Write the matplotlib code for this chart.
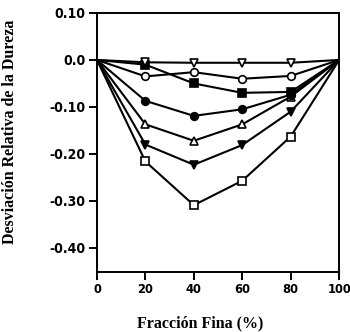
import matplotlib
matplotlib.use("Agg")
import matplotlib.pyplot as plt

x = [0, 20, 40, 60, 80, 100]
s_vtri_open = [0, -0.005, -0.006, -0.006, -0.006, 0]
s_circ_open = [0, -0.035, -0.026, -0.040, -0.034, 0]
s_sq_filled = [0, -0.010, -0.050, -0.070, -0.068, 0]
s_circ_filled = [0, -0.087, -0.119, -0.105, -0.074, 0]
s_tri_open = [0, -0.137, -0.172, -0.137, -0.078, 0]
s_vtri_filled = [0, -0.180, -0.223, -0.181, -0.110, 0]
s_sq_open = [0, -0.216, -0.309, -0.257, -0.163, 0]

xticks = [0, 20, 40, 60, 80, 100]
yticks = [0.10, 0.0, -0.10, -0.20, -0.30, -0.40]
ytick_labels = ["0.10", "0.0", "-0.10", "-0.20", "-0.30", "-0.40"]

fig = plt.figure(figsize=(3.5, 3.32), dpi=100)
ax = fig.add_axes([0.277, 0.181, 0.692, 0.78])

series = [
    (s_sq_open, "s", "white"),
    (s_vtri_filled, "v", "black"),
    (s_tri_open, "^", "white"),
    (s_circ_filled, "o", "black"),
    (s_sq_filled, "s", "black"),
    (s_circ_open, "o", "white"),
    (s_vtri_open, "v", "white"),
]
for ys, m, fc in series:
    ax.plot(x[1:-1], ys[1:-1], color="black", lw=0, marker=m, ms=5.5,
            mfc=fc, mec="black", mew=1.2, zorder=3)
    ax.plot(x, ys, color="black", lw=1.5, zorder=2)

ax.set_xlim(0, 100)
ax.set_ylim(-0.451, 0.10)
ax.set_xticks(xticks)
ax.set_yticks(yticks)
ax.set_yticklabels(ytick_labels)
for lab in ax.get_xticklabels() + ax.get_yticklabels():
    lab.set_fontfamily("DejaVu Sans")
    lab.set_fontstretch("condensed")
    lab.set_fontweight("bold")
    lab.set_fontsize(10)
for lab in ax.get_xticklabels():
    lab.set_fontsize(9.3)
ax.tick_params(direction="out", length=6, width=1.4, top=False, right=False, pad=2)
for sp in ax.spines.values():
    sp.set_linewidth(1.4)

ax.set_xlabel("Fracción Fina (%)", family="Liberation Serif", weight="bold", fontsize=11.5)
ax.set_ylabel("Desviación Relativa de la Dureza", family="Liberation Serif", weight="bold", fontsize=11.5)
ax.xaxis.set_label_coords(0.425, -0.166)
ax.yaxis.set_label_coords(-0.326, 0.54)

fig.savefig("out.png", dpi=100)
